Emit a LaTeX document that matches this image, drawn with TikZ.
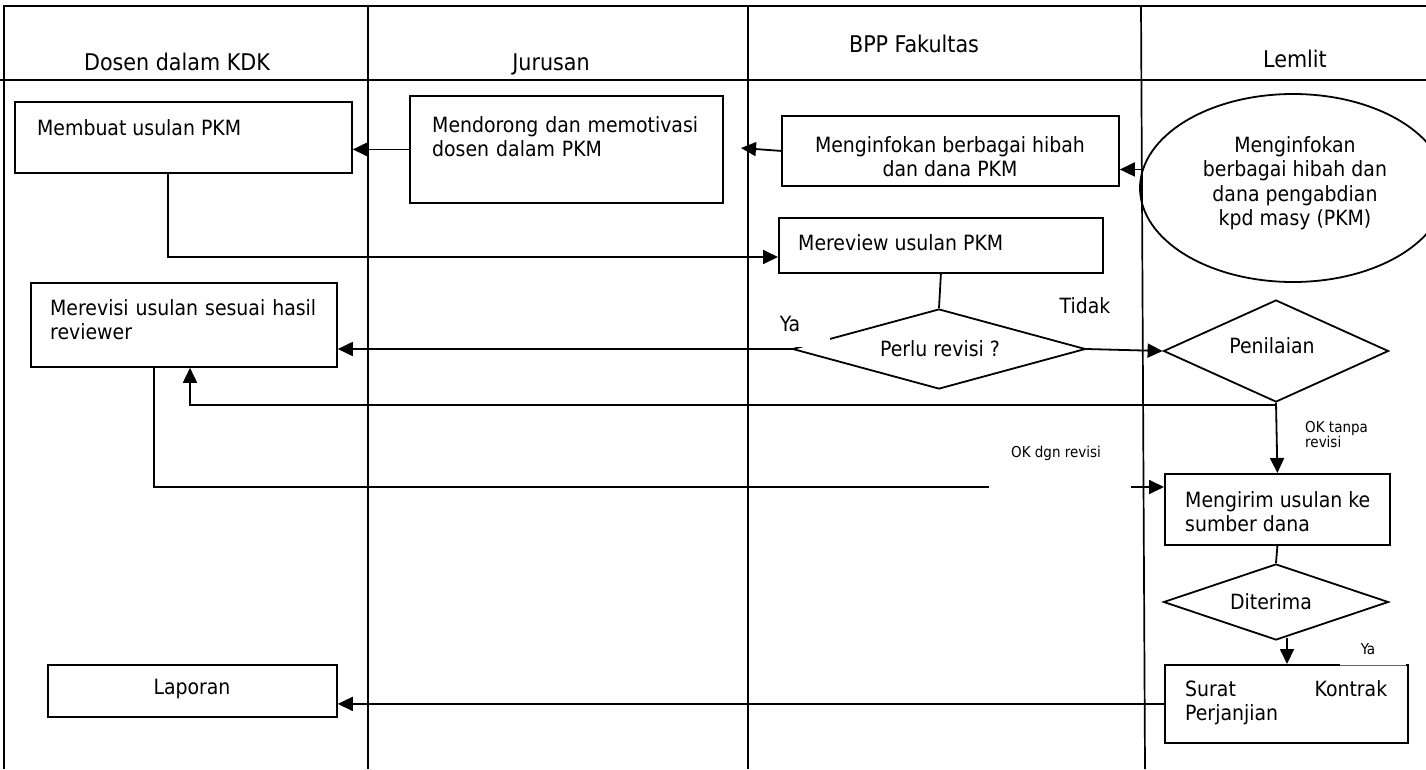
\documentclass[tikz,border=0pt]{standalone}
\usepackage{fontspec}
\setmainfont{DejaVu Sans Condensed}
\usetikzlibrary{arrows.meta,shapes.geometric}
\begin{document}
\begin{tikzpicture}[x=1pt,y=-1pt,
  frame/.style={line width=1.9pt},
  lane/.style={line width=1.7pt},
  box/.style={draw, line width=1.8pt, inner sep=0pt, anchor=north west},
  dia/.style={draw, diamond, line width=1.8pt, inner sep=0pt},
  txt/.style={inner sep=0pt, font=\fontsize{21}{24.5}\selectfont},
  hdr/.style={inner sep=0pt, anchor=base, font=\fontsize{23}{27}\selectfont},
  small/.style={inner sep=0pt, font=\fontsize{15}{15}\selectfont},
  arr/.style={line width=1.8pt, -{Triangle[length=15pt,width=14pt]}},
  con/.style={line width=1.8pt}]
\useasboundingbox (0,0) rectangle (1426,769);
\clip (0,0) rectangle (1426,769);
% frame and lanes
\draw[frame] (1426,6) -- (4,6) -- (4,769);
\draw[frame] (0,80) -- (1426,80);
\draw[lane] (368,6) -- (368,769);
\draw[lane] (748,6) -- (748,769);
\draw[lane] (1141,6) -- (1145,769);
% headers
\node[hdr] (h1) at (177,70) {Dosen dalam KDK};
\node[hdr] (h2) at (551,70) {Jurusan};
\node[hdr] (h3) at (914,52) {BPP Fakultas};
\node[hdr] (h4) at (1295,67) {Lemlit};
% boxes
\node[box, minimum width=337pt, minimum height=71pt] (membuat) at (14,101) {};
\node[txt, anchor=north west] (tmembuat) at (37,119) {Membuat usulan PKM};
\node[box, minimum width=313pt, minimum height=107pt] (mendorong) at (409,95) {};
\node[txt, anchor=north west, text width=266pt, align=left] (tmendorong) at (432,116) {Mendorong\hfill dan\hfill memotivasi\\dosen dalam PKM};
\node[box, minimum width=337pt, minimum height=70pt] (info) at (781,115) {};
\node[txt, anchor=north, align=center] (tinfo) at (950,136) {Menginfokan berbagai hibah\\dan dana PKM};
\node[draw, ellipse, line width=1.8pt, minimum width=306pt, minimum height=188pt, inner sep=0pt] (lemlit) at (1293,188) {};
\node[txt, anchor=north, align=center] (tlemlit) at (1295,136) {Menginfokan\\berbagai hibah dan\\dana pengabdian\\kpd masy (PKM)};
\node[box, minimum width=324pt, minimum height=55pt] (mereview) at (778,217) {};
\node[txt, anchor=north west] (tmereview) at (798,234) {Mereview usulan PKM};
\node[box, minimum width=306pt, minimum height=84pt] (merevisi) at (30,282) {};
\node[txt, anchor=north west, text width=266pt, align=left] (tmerevisi) at (50,299) {Merevisi\hfill usulan\hfill sesuai\hfill hasil\\reviewer};
\node[dia, minimum width=293pt, minimum height=80pt] (perlu) at (939,349) {};
\node[txt] (tperlu) at (940,349) {Perlu revisi ?};
\node[dia, minimum width=225pt, minimum height=102pt] (penilaian) at (1276,351) {};
\node[txt, anchor=north] (tpenilaian) at (1272,337) {Penilaian};
\node[box, minimum width=225pt, minimum height=71pt] (mengirim) at (1164,473) {};
\node[txt, anchor=north west, align=left] (tmengirim) at (1185,491) {Mengirim usulan ke\\sumber dana};
\node[dia, minimum width=225pt, minimum height=76pt] (diterima) at (1276,602) {};
\node[txt] (tditerima) at (1271,602) {Diterima};
\node[box, minimum width=243pt, minimum height=78pt] (surat) at (1164,664) {};
\node[txt, anchor=north west, text width=202pt, align=left] (tsurat) at (1185,680) {Surat\hfill Kontrak\\Perjanjian};
\node[box, minimum width=289pt, minimum height=52pt] (laporan) at (47,664) {};
\node[txt, anchor=north] (tlaporan) at (192,679) {Laporan};
% coordinates
\coordinate (tipA) at (741,148);
\coordinate (c1) at (168,257);
\coordinate (c2) at (190,405);
\coordinate (c3) at (154,487);
\coordinate (c4) at (1287,638);
% connectors
\draw[arr] (info.west) -- (tipA);
\draw[arr] (mendorong.west) -- (membuat.east |- mendorong.west);
\draw[arr] (lemlit.173) -- (info.east |- lemlit.173);
\draw[arr] (membuat.south -| c1) -- (c1) -- (mereview.west |- c1);
\draw[con] (mereview.south) -- (perlu.north);
\draw[arr] (perlu.west) -- (merevisi.east |- perlu.west);
\draw[arr] (perlu.east) -- (penilaian.west);
\draw[arr] (penilaian.south) -- (penilaian.south |- c2) -- (c2) -- (merevisi.south -| c2);
\draw[arr] (penilaian.south) -- (mengirim.north);
\draw[arr] (merevisi.south -| c3) -- (c3) -- (mengirim.west |- c3);
\draw[con] (mengirim.south) -- (diterima.north);
\draw[arr] (c4) -- (surat.north -| c4);
\draw[arr] (surat.west) -- (laporan.east |- surat.west);
% labels
\fill[white] (759,312) rectangle (830,347.3);
\node[txt, anchor=north] (lya) at (790,316) {Ya};
\node[txt, anchor=north] (ltidak) at (1085,297) {Tidak};
\node[small, anchor=north west, align=left] (lok1) at (1305,421) {OK tanpa\\revisi};
\fill[white] (989,440) rectangle (1131,489);
\node[small, anchor=north] (lok2) at (1056,446) {OK dgn revisi};
\fill[white] (1340,642) rectangle (1406,664.6);
\draw[line width=0.7pt, black!60] (1340,665.4) -- (1406,665.4);
\node[small, anchor=north] (lya2) at (1368,643) {Ya};
\end{tikzpicture}
\end{document}
